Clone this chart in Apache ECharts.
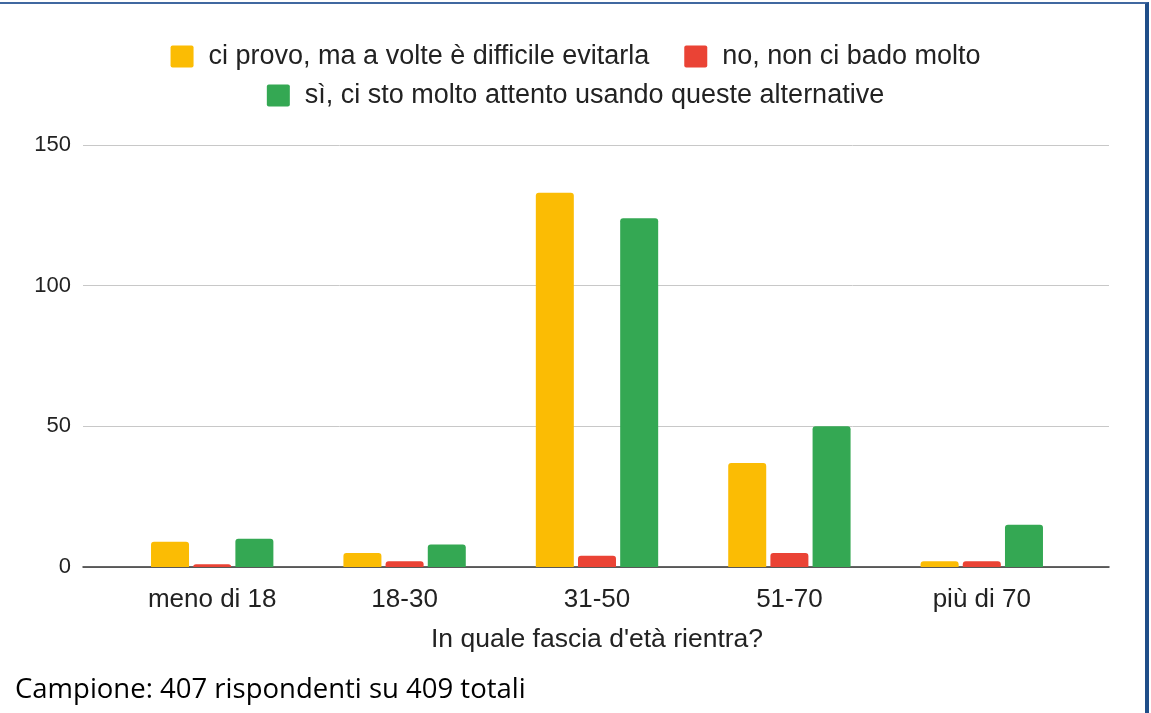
<!DOCTYPE html>
<html>
<head>
<meta charset="utf-8">
<script src="https://cdn.jsdelivr.net/npm/echarts@6/dist/echarts.min.js"></script>
<style>
    html, body { margin: 0; padding: 0; background: #fff; }
    #frame {
        position: absolute; left: 0; top: 2px; width: 1149px; height: 711px;
        border-top: 2px solid #4068a0; border-right: 4px solid #1f4e89;
        box-sizing: border-box;
    }
    #chart { position: absolute; left: 0; top: 0; width: 1151px; height: 713px; }
    #caption {
        position: absolute; left: 15px; top: 673px; line-height: 30px;
        font-family: "Open Sans", sans-serif; font-size: 27.5px; color: #000;
    }
</style>
</head>
<body>
<div id="chart"></div>
<div id="frame"></div>
<div id="caption">Campione: 407 rispondenti su 409 totali</div>
<script>
document.addEventListener("DOMContentLoaded", function() {
    const categories = ["meno di 18", "18-30", "31-50", "51-70", "più di 70"];
    const seriesNames = [
        "ci provo, ma a volte è difficile evitarla",
        "no, non ci bado molto",
        "sì, ci sto molto attento usando queste alternative"
    ];
    const provo = [9, 5, 133, 37, 2];
    const noBado = [1, 2, 4, 5, 2];
    const attento = [10, 8, 124, 50, 15];
    const colors = ["#fbbc04", "#ea4335", "#34a853"];

    const font = "Arial, 'Liberation Sans', sans-serif";
    const chart = echarts.init(document.getElementById("chart"));

    // Function to build one bar series on the narrower category grid
    function barSeries(name, data, color) {
        return {
            name: name,
            type: "bar",
            xAxisIndex: 1,
            yAxisIndex: 1,
            data: data,
            barWidth: 38,
            barGap: "11%",
            itemStyle: { color: color, borderRadius: [3, 3, 0, 0] }
        };
    }

    const legendText = { fontFamily: font, fontSize: 27, color: "#222", padding: [0, 0, 0, 10] };
    const legendIcon = "path://M2,0H21A2,2 0 0 1 23,2V20A2,2 0 0 1 21,22H2A2,2 0 0 1 0,20V2A2,2 0 0 1 2,0Z";

    const option = {
        animation: false,
        color: colors,
        legend: [
            {
                top: 38, left: "center", itemWidth: 23, itemHeight: 22, itemGap: 35,
                icon: legendIcon, textStyle: legendText,
                data: [seriesNames[0], seriesNames[1]]
            },
            {
                top: 77, left: "center", itemWidth: 23, itemHeight: 22,
                icon: legendIcon, textStyle: legendText,
                data: [seriesNames[2]]
            }
        ],
        grid: [
            { left: 83, right: 42, top: 145, bottom: 146 },
            { left: 116, right: 73, top: 145, bottom: 146 }
        ],
        xAxis: [
            {
                gridIndex: 0, type: "category", data: categories,
                axisLine: { lineStyle: { color: "#333", width: 1.5 } },
                axisTick: { show: false }, axisLabel: { show: false }
            },
            {
                gridIndex: 1, type: "category", data: categories,
                axisLine: { show: false }, axisTick: { show: false },
                axisLabel: { fontFamily: font, fontSize: 26, color: "#222", margin: 20 },
                name: "In quale fascia d'età rientra?",
                nameLocation: "middle", nameGap: 59,
                nameTextStyle: { fontFamily: font, fontSize: 26.5, color: "#222" }
            }
        ],
        yAxis: [
            {
                gridIndex: 0, type: "value", min: 0, max: 150, interval: 50,
                axisLine: { show: false }, axisTick: { show: false },
                axisLabel: { fontFamily: font, fontSize: 22, color: "#222", margin: 12 },
                splitLine: { lineStyle: { color: "#c8c8c8", width: 1 } }
            },
            {
                gridIndex: 1, type: "value", min: 0, max: 150, interval: 50,
                show: false
            }
        ],
        series: [
            barSeries(seriesNames[0], provo, colors[0]),
            barSeries(seriesNames[1], noBado, colors[1]),
            barSeries(seriesNames[2], attento, colors[2])
        ]
    };
    chart.setOption(option);
});
</script>
</body>
</html>
